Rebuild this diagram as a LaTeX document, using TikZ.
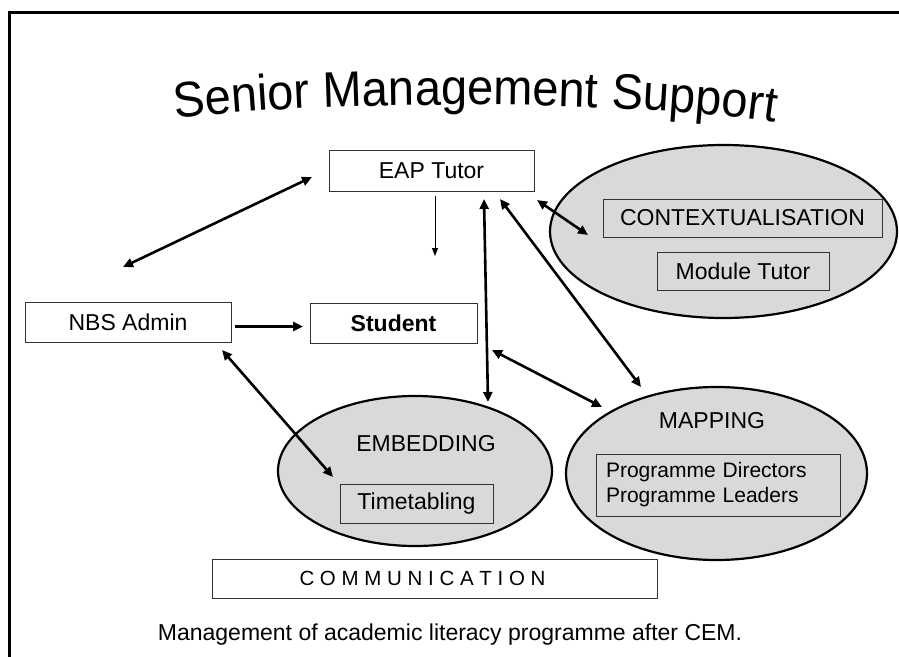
\documentclass[tikz,border=0pt]{standalone}
\usepackage{fontspec}
\setmainfont{Liberation Sans}
\newfontfamily\titlefont[FakeStretch=0.94]{Liberation Sans}
\usetikzlibrary{arrows.meta,shapes.geometric,decorations.text}
\begin{document}
\begin{tikzpicture}[x=1pt,y=-1pt,
  txt/.style={font=\fontsize{23}{27}\selectfont},
  box/.style={draw=black!80, line width=0.8pt, fill=white, inner sep=0pt, txt},
  gbox/.style={box, fill=black!15},
  oval/.style={ellipse, draw=black, line width=2.2pt, fill=black!15, inner sep=0pt},
  biarrow/.style={line width=2.6pt, {Triangle[length=10pt,width=9pt]}-{Triangle[length=10pt,width=9pt]}},
  onearrow/.style={line width=2.6pt, -{Triangle[length=10pt,width=9pt]}},
  thinarrow/.style={line width=1pt, -{Triangle[length=8pt,width=6pt]}},
]
\useasboundingbox (0,0) rectangle (899,656);
% frame
\draw[line width=3pt] (9,670) -- (9,12) -- (910,12);

% title
\path[decorate, decoration={text along path, text align=center,
  text={|\titlefont\fontsize{50}{50}\selectfont|Senior Management Support}}]
  (161,121) .. controls (300,99) and (640,99) .. (789,124);

% ellipses
\node[oval, minimum width=347pt, minimum height=173pt] (ctx) at (723.5,231.5) {};
\node[oval, minimum width=274pt, minimum height=150pt] (emb) at (415,471) {};
\node[oval, minimum width=301pt, minimum height=173pt] (map) at (716.5,473.5) {};

% boxes
\node[box, minimum width=205pt, minimum height=41pt] (eap) at (431.5,170.5) {EAP Tutor};
\node[box, minimum width=206pt, minimum height=40pt] (nbs) at (128,322) {NBS Admin};
\node[box, minimum width=167pt, minimum height=40pt, font=\fontsize{23}{27}\selectfont\bfseries] (stu) at (393.5,323) {Student};
\node[gbox, minimum width=279pt, minimum height=38pt] (ctxbox) at (742.5,218) {CONTEXTUALISATION};
\node[gbox, minimum width=172pt, minimum height=38pt] (mod) at (743,271) {Module Tutor};
\node[txt] (embt) at (426,444) {EMBEDDING};
\node[gbox, minimum width=153pt, minimum height=39pt] (time) at (416.5,503.5) {Timetabling};
\node[txt] (mapt) at (712,421) {MAPPING};
\node[gbox, minimum width=244pt, minimum height=62pt, text width=224pt, align=left,
  font=\fontsize{21}{25}\selectfont] (prog) at (718,485) {Programme Directors\\Programme Leaders};
\node[box, minimum width=445pt, minimum height=39pt, font=\fontsize{20.5}{24}\selectfont] (comm) at (434.5,578.5)
  {C O M M U N I C A T I O N\rule{24pt}{0pt}};
\node[txt, anchor=base] (cap) at (450,640) {Management of academic literacy programme after CEM.};

% connector end points
\coordinate (eapL) at (312,177);   \coordinate (nbsT) at (123,267);
\coordinate (eapD) at (435,196);   \coordinate (stuT) at (435,256);
\coordinate (nbsR) at (235,326.5); \coordinate (stuL) at (303,326.5);
\coordinate (eapR) at (537,200);   \coordinate (ctxL) at (588,235);
\coordinate (eapB) at (484,199);   \coordinate (embT) at (488,402);
\coordinate (eapC) at (500,199);   \coordinate (mapT) at (641,387);
\coordinate (midP) at (492,350);   \coordinate (mapL) at (602,407);
\coordinate (nbsB) at (222,350);   \coordinate (timeT) at (333,477);

% connectors
\draw[biarrow] (eapL) -- (nbsT);
\draw[thinarrow] (eapD) -- (stuT);
\draw[onearrow] (nbsR) -- (stuL);
\draw[biarrow] (eapR) -- (ctxL);
\draw[biarrow] (eapB) -- (embT);
\draw[biarrow] (eapC) -- (mapT);
\draw[biarrow] (midP) -- (mapL);
\draw[biarrow] (nbsB) -- (timeT);
\end{tikzpicture}
\end{document}
